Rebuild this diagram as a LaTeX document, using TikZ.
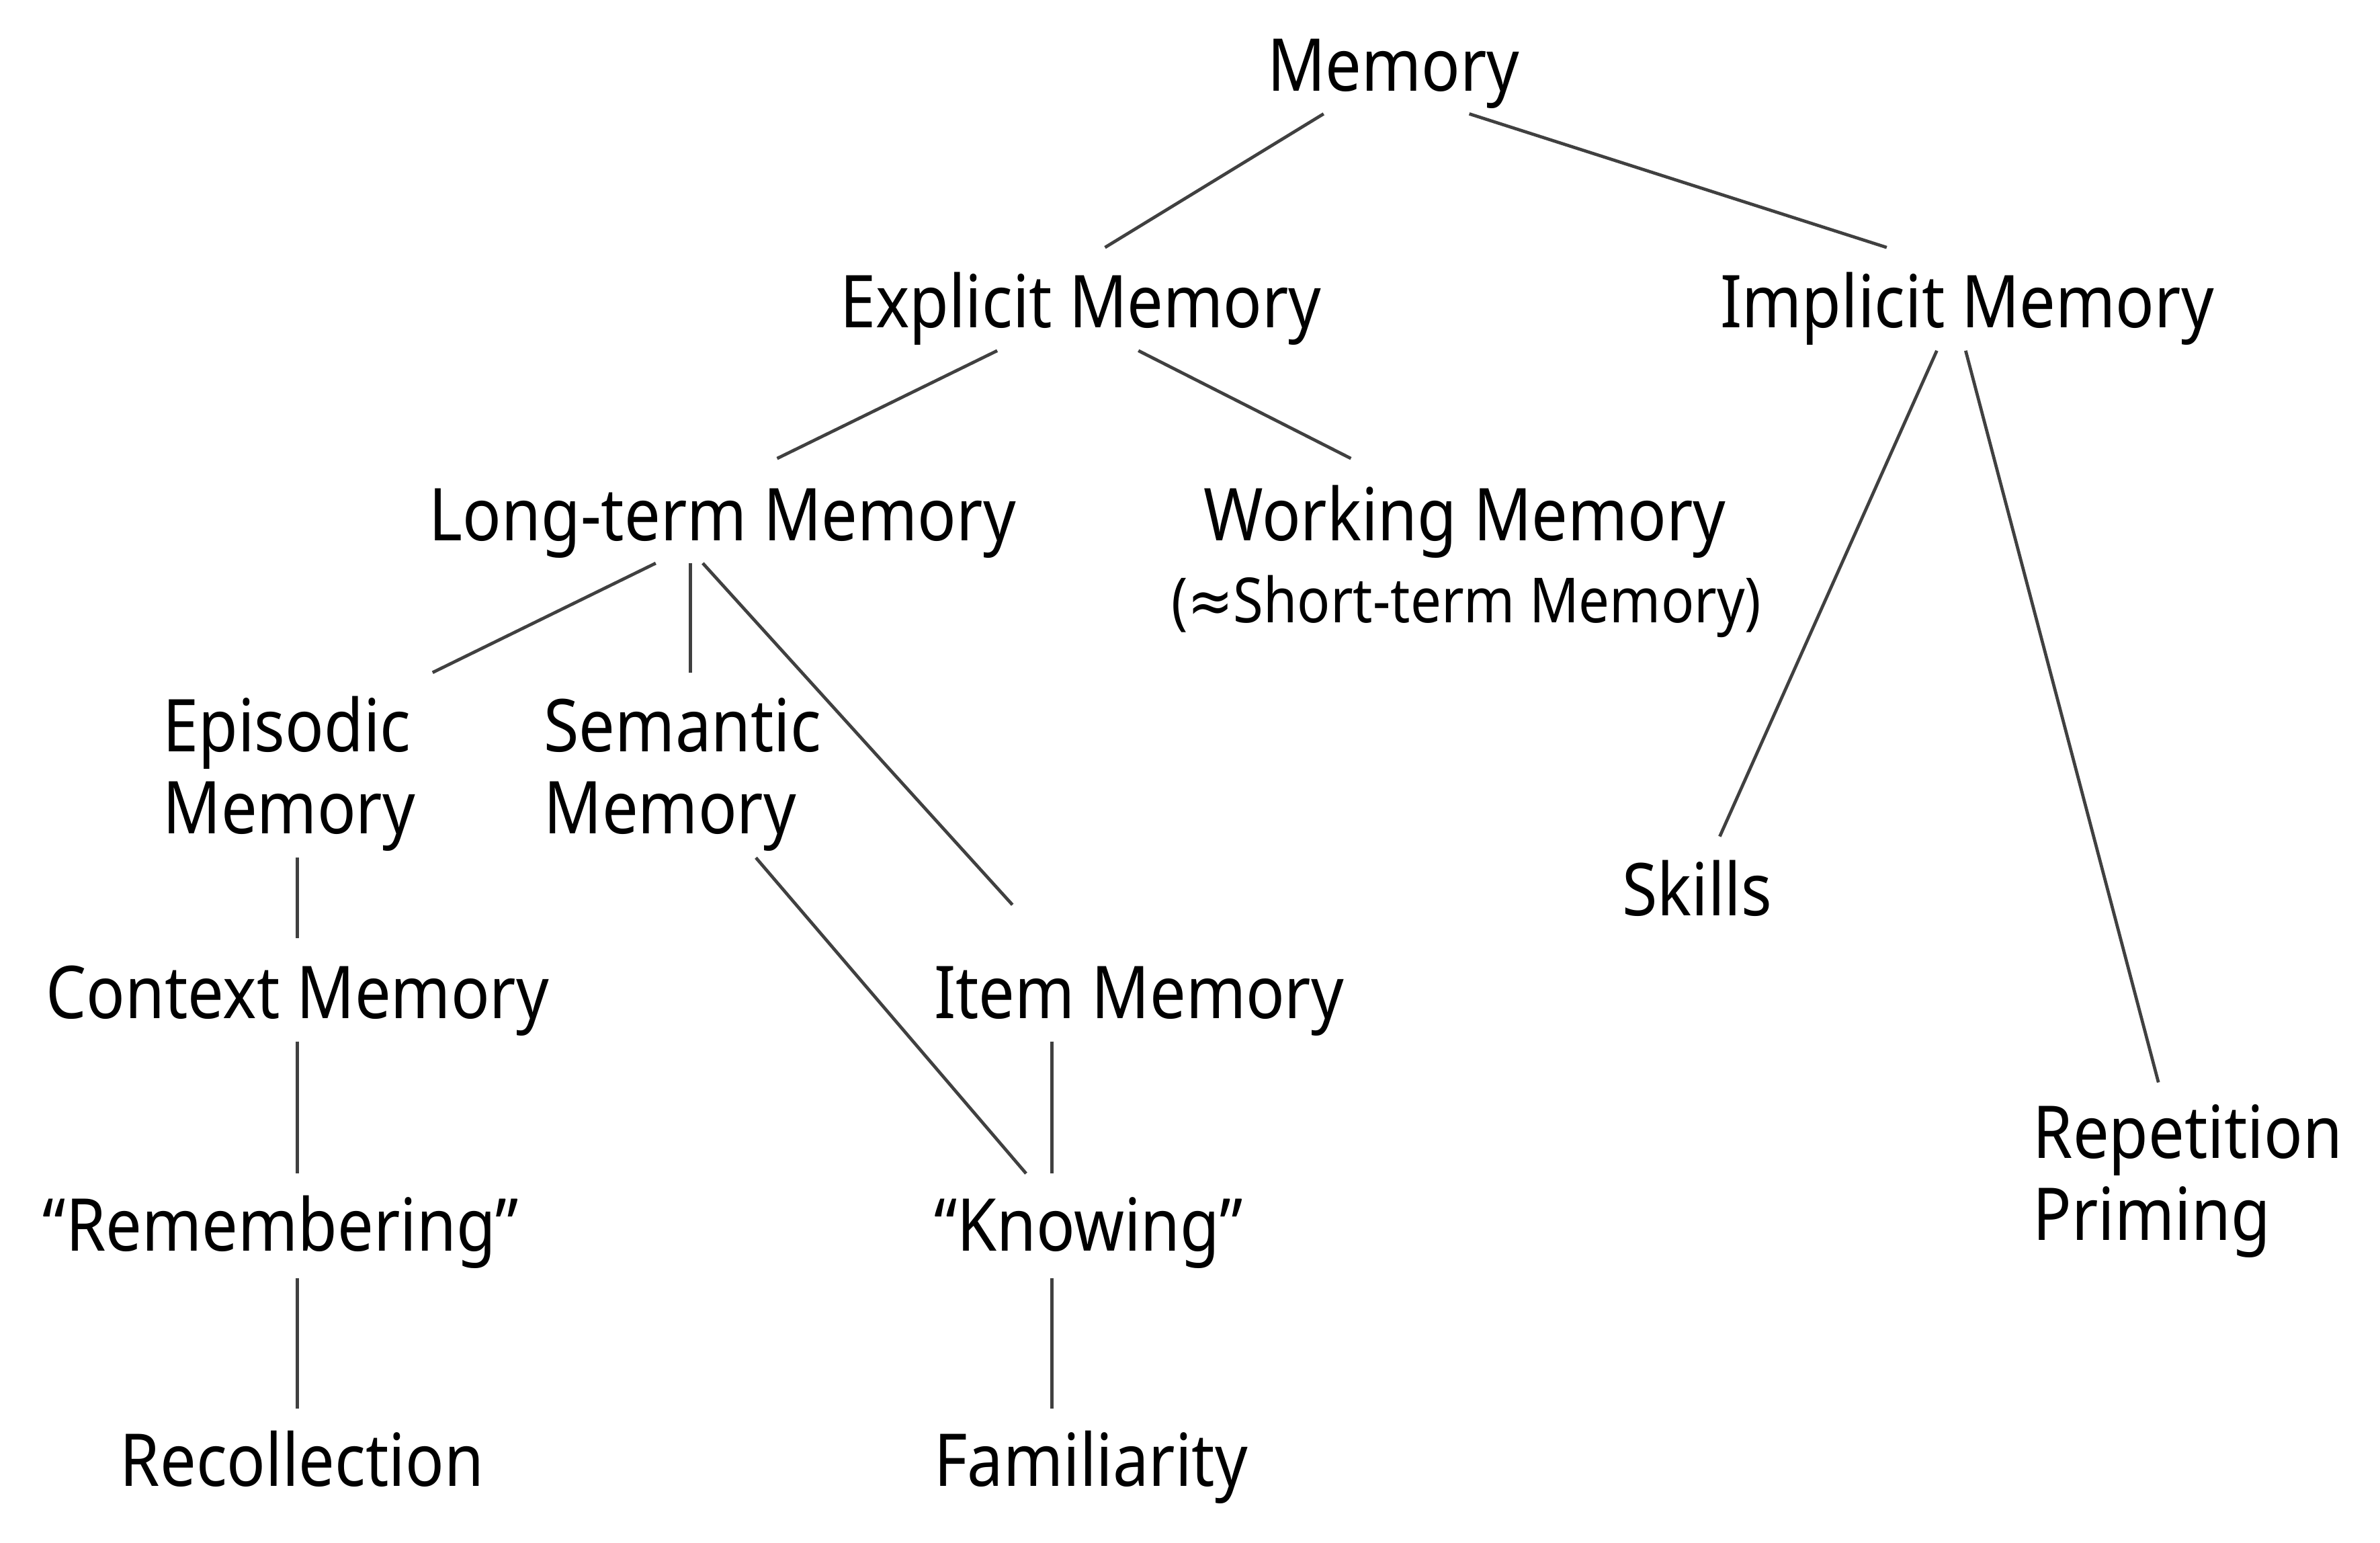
\documentclass[tikz,border=0pt]{standalone}
\usepackage{fontspec}
\setmainfont{Noto Sans}[FakeStretch=0.88]
\newfontfamily\symfont{DejaVu Sans}[FakeStretch=0.88]
\usetikzlibrary{calc}
\begin{document}
\begin{tikzpicture}[x=0.5pt,y=-0.5pt,
  txt/.style={inner sep=0pt, font=\fontsize{24}{27}\selectfont},
  small/.style={inner sep=0pt, font=\fontsize{20.5}{24}\selectfont},
  conn/.style={draw=black!75, line width=1.05pt}]
\path[use as bounding box, fill=white] (0,0) rectangle (1568,1016);
% nodes
\node[txt, anchor=base] (mem) at (918,60) {Memory};
\node[txt, anchor=base] (exp) at (712,216) {Explicit Memory};
\node[txt, anchor=base] (imp) at (1296,216) {Implicit Memory};
\node[txt, anchor=base] (lt) at (476,356) {Long-term Memory};
\node[txt, anchor=base] (wm) at (965,356) {Working Memory};
\node[small, anchor=base] (stm) at (966,410) {({\symfont ≈}Short-term Memory)};
\node[txt, align=left, anchor=base west] (epi) at (107,549) {Episodic\\Memory};
\node[txt, align=left, anchor=base west] (sem) at (358,549) {Semantic\\Memory};
\node[txt, anchor=base] (sk) at (1118,603) {Skills};
\node[txt, anchor=base] (ctx) at (196,671) {Context Memory};
\node[txt, anchor=base west] (item) at (615,671) {Item Memory};
\node[txt, align=left, anchor=base west] (rep) at (1339,817) {Repetition\\Priming};
\node[txt, anchor=base] (rem) at (185,824) {“Remembering”};
\node[txt, anchor=base west] (kn) at (615,824) {“Knowing”};
\node[txt, anchor=base] (rec) at (199,979) {Recollection};
\node[txt, anchor=base west] (fam) at (615,979) {Familiarity};
% connectors
\draw[conn] ($(mem.base)+(-46,15)$) -- ($(exp.base)+(16,-53)$);
\draw[conn] ($(mem.base)+(50,15)$) -- ($(imp.base)+(-53,-53)$);
\draw[conn] ($(exp.base)+(-55,15)$) -- ($(lt.base)+(36,-54)$);
\draw[conn] ($(exp.base)+(38,15)$) -- ($(wm.base)+(-75,-54)$);
\draw[conn] ($(lt.base)+(-44,15)$) -- ($(epi.base west)+(178,-106)$);
\draw[conn] ($(lt.base)+(-21,15)$) -- ($(sem.base west)+(97,-106)$);
\draw[conn] ($(lt.base)+(-13,15)$) -- ($(item.base west)+(52,-75)$);
\draw[conn] ($(epi.base west)+(89,16)$) -- ($(ctx.base)+(0,-53)$);
\draw[conn] ($(sem.base west)+(140,16)$) -- ($(kn.base west)+(61,-51)$);
\draw[conn] ($(item.base west)+(78,15)$) -- ($(kn.base west)+(78,-51)$);
\draw[conn] ($(ctx.base)+(0,15)$) -- ($(rem.base)+(11,-51)$);
\draw[conn] ($(rem.base)+(11,18)$) -- ($(rec.base)+(-3,-51)$);
\draw[conn] ($(kn.base west)+(78,18)$) -- ($(fam.base west)+(78,-51)$);
\draw[conn] ($(imp.base)+(-20,15)$) -- ($(sk.base)+(15,-52)$);
\draw[conn] ($(imp.base)+(-1,15)$) -- ($(rep.base west)+(83,-104)$);
\end{tikzpicture}
\end{document}
